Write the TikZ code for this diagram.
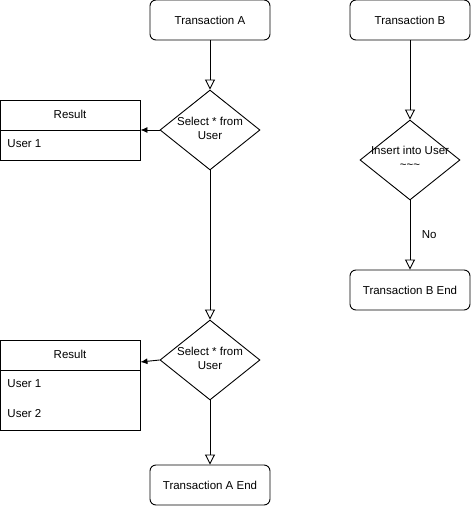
\documentclass[tikz,border=0pt]{standalone}
\usepackage{fontspec}
\setmainfont{Liberation Sans}
\usetikzlibrary{shapes.geometric,arrows.meta}
\begin{document}
\begin{tikzpicture}[x=1pt,y=-1pt,line width=0.9pt,
  every node/.style={font=\fontsize{11.5}{14}\selectfont},
  proc/.style={draw,rounded corners=6pt,minimum width=120pt,minimum height=40pt,inner sep=0pt},
  dec/.style={draw,diamond,minimum width=100pt,minimum height=80pt,aspect=1.25,inner sep=0pt},
  tbl/.style={draw,rectangle,inner sep=0pt},
  flow/.style={-{Triangle[open,length=10pt,width=10pt]}},
  res/.style={-{Latex[length=7pt,width=6pt]}}]
\useasboundingbox (0,0) rectangle (471,506);
% Transaction A column
\node[proc] (ta) at (210,20) {Transaction A};
\node[dec] (d1) at (210,130) {};
\node[align=center,inner sep=0pt] (d1t) at (210,128) {Select * from\\User};
\node[dec] (d2) at (210,360) {};
\node[align=center,inner sep=0pt] (d2t) at (210,358) {Select * from\\User};
\node[proc] (tae) at (210,485) {Transaction A End};
% Result tables
\node[tbl,minimum width=140pt,minimum height=60pt] (r1) at (70,130) {};
\draw (0,130) -- (140,130);
\node (r1h) at (70,114) {Result};
\node[anchor=west,inner sep=0pt] (r1a) at (7,144) {User 1};
\node[tbl,minimum width=140pt,minimum height=90pt] (r2) at (70,385) {};
\draw (0,370) -- (140,370);
\node (r2h) at (70,354) {Result};
\node[anchor=west,inner sep=0pt] (r2a) at (7,384) {User 1};
\node[anchor=west,inner sep=0pt] (r2b) at (7,414) {User 2};
% Transaction B column
\node[proc] (tb) at (410,20) {Transaction B};
\node[dec] (d3) at (410,160) {};
\node[align=center,inner sep=0pt] (d3t) at (410,157) {Insert into User\\\textasciitilde\textasciitilde\textasciitilde};
\node[proc] (tbe) at (410,290) {Transaction B End};
% connectors
\draw[flow] (ta) -- (d1.north);
\draw[flow] (d1.south) -- (d2.north);
\draw[flow] (d2.south) -- (tae);
\draw[res] (d1.west) -- (d1.west -| r1.east);
\draw[res] (d2.west) -- ([yshift=-2pt]d2.west -| r2.east);
\draw[flow] (tb) -- (d3.north);
\draw[flow] (d3.south) -- node[right=8pt] {No} (tbe);
\end{tikzpicture}
\end{document}
